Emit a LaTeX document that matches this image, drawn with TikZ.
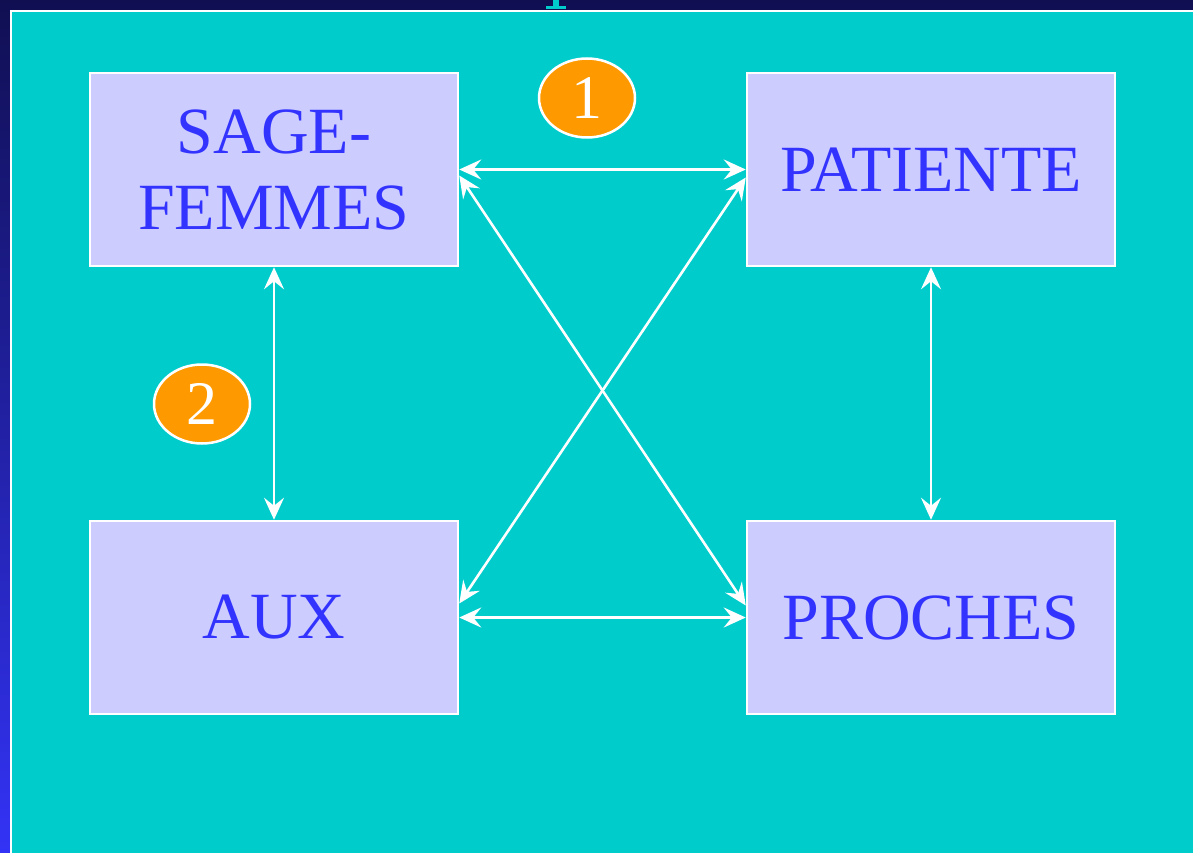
\documentclass[tikz,border=0pt]{standalone}
\usepackage{fontspec}
\setmainfont{Liberation Serif}
\usetikzlibrary{arrows.meta,shapes.geometric}
\definecolor{slidecyan}{HTML}{00CCCC}
\definecolor{boxfill}{HTML}{CCCCFF}
\definecolor{boxtext}{HTML}{3333FF}
\definecolor{badge}{HTML}{FF9900}
\definecolor{navytop}{HTML}{100F52}
\definecolor{navybot}{HTML}{3333F6}
\tikzset{
  actor/.style={rectangle, draw=white, line width=2.5pt, fill=boxfill, text=boxtext,
    minimum width=368pt, minimum height=193pt, inner sep=0pt, align=center,
    font=\fontsize{66}{76}\selectfont},
  badge/.style={ellipse, draw=white, line width=2.5pt, fill=badge, text=white,
    minimum width=96pt, minimum height=79pt, inner sep=0pt,
    font=\fontsize{62}{62}\selectfont},
  link/.style={white, line width=2.6pt,
    {Stealth[length=22pt,width=20pt,inset=8pt]}-{Stealth[length=22pt,width=20pt,inset=8pt]}}
}
\begin{document}
\begin{tikzpicture}[x=1pt, y=-1pt]
        \useasboundingbox (0,0) rectangle (1193,853);
        % slide background
        \shade[top color=navytop, bottom color=navybot] (0,0) rectangle (1193,853);
        \fill[slidecyan] (553,0) rectangle (559,9);
        \fill[slidecyan] (546,6) rectangle (566,9);
        \draw[white, line width=2.5pt, fill=slidecyan] (11,11) rectangle (1200,860);

        \node[actor] (sage-femmes) at(274,169.5){SAGE-\\FEMMES};
        \node[actor] (patiente) at(931,169.5){\raisebox{-3pt}{PATIENTE}};
        \node[actor] (aux) at(274,617.5){\raisebox{-3pt}{AUX}};
        \node[actor] (proches) at(931,617.5){\raisebox{-3pt}{PROCHES}};

        \node[badge] (badge-1) at(587,98){1};
        \node[badge] (badge-2) at(202,404){2};

        \draw[link] (sage-femmes.east) -- (patiente.west);
        \draw[link] (aux.east) -- (proches.west);
        \draw[link] (sage-femmes.south) -- (aux.north);
        \draw[link] (patiente.south) -- (proches.north);
        \draw[link] ([yshift=-6pt]sage-femmes.east) -- ([yshift=12pt]proches.west);
        \draw[link] ([yshift=-8pt]patiente.west) -- ([yshift=14pt]aux.east);
\end{tikzpicture}
\end{document}
